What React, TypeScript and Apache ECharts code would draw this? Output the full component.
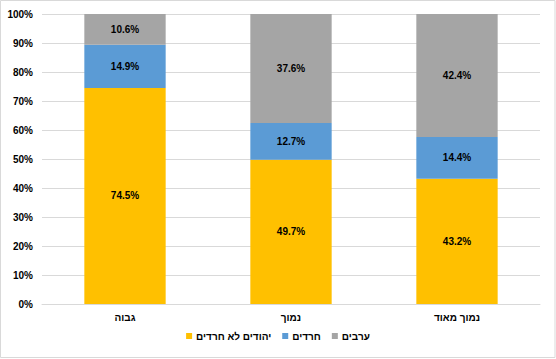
import React, { useEffect, useRef } from "react";
import * as echarts from "echarts";

const categories = ["גבוה", "נמוך", "נמוך מאוד"];
const seriesNames = ["יהודים לא חרדים", "חרדים", "ערבים"];
const nonHaredi = [74.5, 49.7, 43.2];
const haredi = [14.9, 12.7, 14.4];
const arabs = [10.6, 37.6, 42.4];
const colors = ["#FFC000", "#5B9BD5", "#A5A5A5"];

const FONT = "'Liberation Sans', Arial, sans-serif";

export default function App() {
  const ref = useRef<HTMLDivElement>(null);
  useEffect(() => {
    if (!ref.current) return;
    const chart = echarts.init(ref.current, null, { renderer: "svg" });
    const values = [nonHaredi, haredi, arabs];
    chart.setOption({
      animation: false,
      textStyle: { fontFamily: FONT },
      graphic: [
        {
          type: "rect",
          shape: { x: 0.5, y: 0.5, width: 554.5, height: 357 },
          style: { fill: "none", stroke: "#d9d9d9", lineWidth: 1 },
          silent: true,
        },
      ],
      grid: { left: 42, right: 16, top: 14, bottom: 55 },
      legend: {
        bottom: 13,
        left: "center",
        itemWidth: 6,
        itemHeight: 6,
        itemGap: 11,
        icon: "rect",
        textStyle: { fontFamily: FONT, fontSize: 10, fontWeight: "bold", color: "#000", padding: [0, 0, 0, -1] },
        data: seriesNames,
      },
      xAxis: {
        type: "category",
        data: categories,
        axisLine: { lineStyle: { color: "#d9d9d9" } },
        axisTick: { show: false },
        axisLabel: { fontFamily: FONT, fontSize: 10, fontWeight: "bold", color: "#000", margin: 8 },
      },
      yAxis: {
        type: "value",
        min: 0,
        max: 100,
        interval: 10,
        axisLine: { show: false },
        axisTick: { show: false },
        splitLine: { lineStyle: { color: "#d9d9d9" } },
        axisLabel: { fontFamily: FONT, fontSize: 10, fontWeight: "bold", color: "#000", margin: 9, formatter: "{value}%" },
      },
      series: seriesNames.map((name, i) => ({
        name,
        type: "bar",
        stack: "total",
        barWidth: "49%",
        itemStyle: { color: colors[i] },
        label: {
          show: true,
          position: "inside",
          fontFamily: FONT,
          fontSize: 10,
          fontWeight: "bold",
          color: "#000",
          formatter: (p: any) => p.value.toFixed(1) + "%",
        },
        data: values[i],
      })),
    });
    return () => chart.dispose();
  }, []);
  return (
    <div
      ref={ref}
      style={{ position: "fixed", left: 0, top: 0, width: 556, height: 359, background: "#fff" }}
    />
  );
}
